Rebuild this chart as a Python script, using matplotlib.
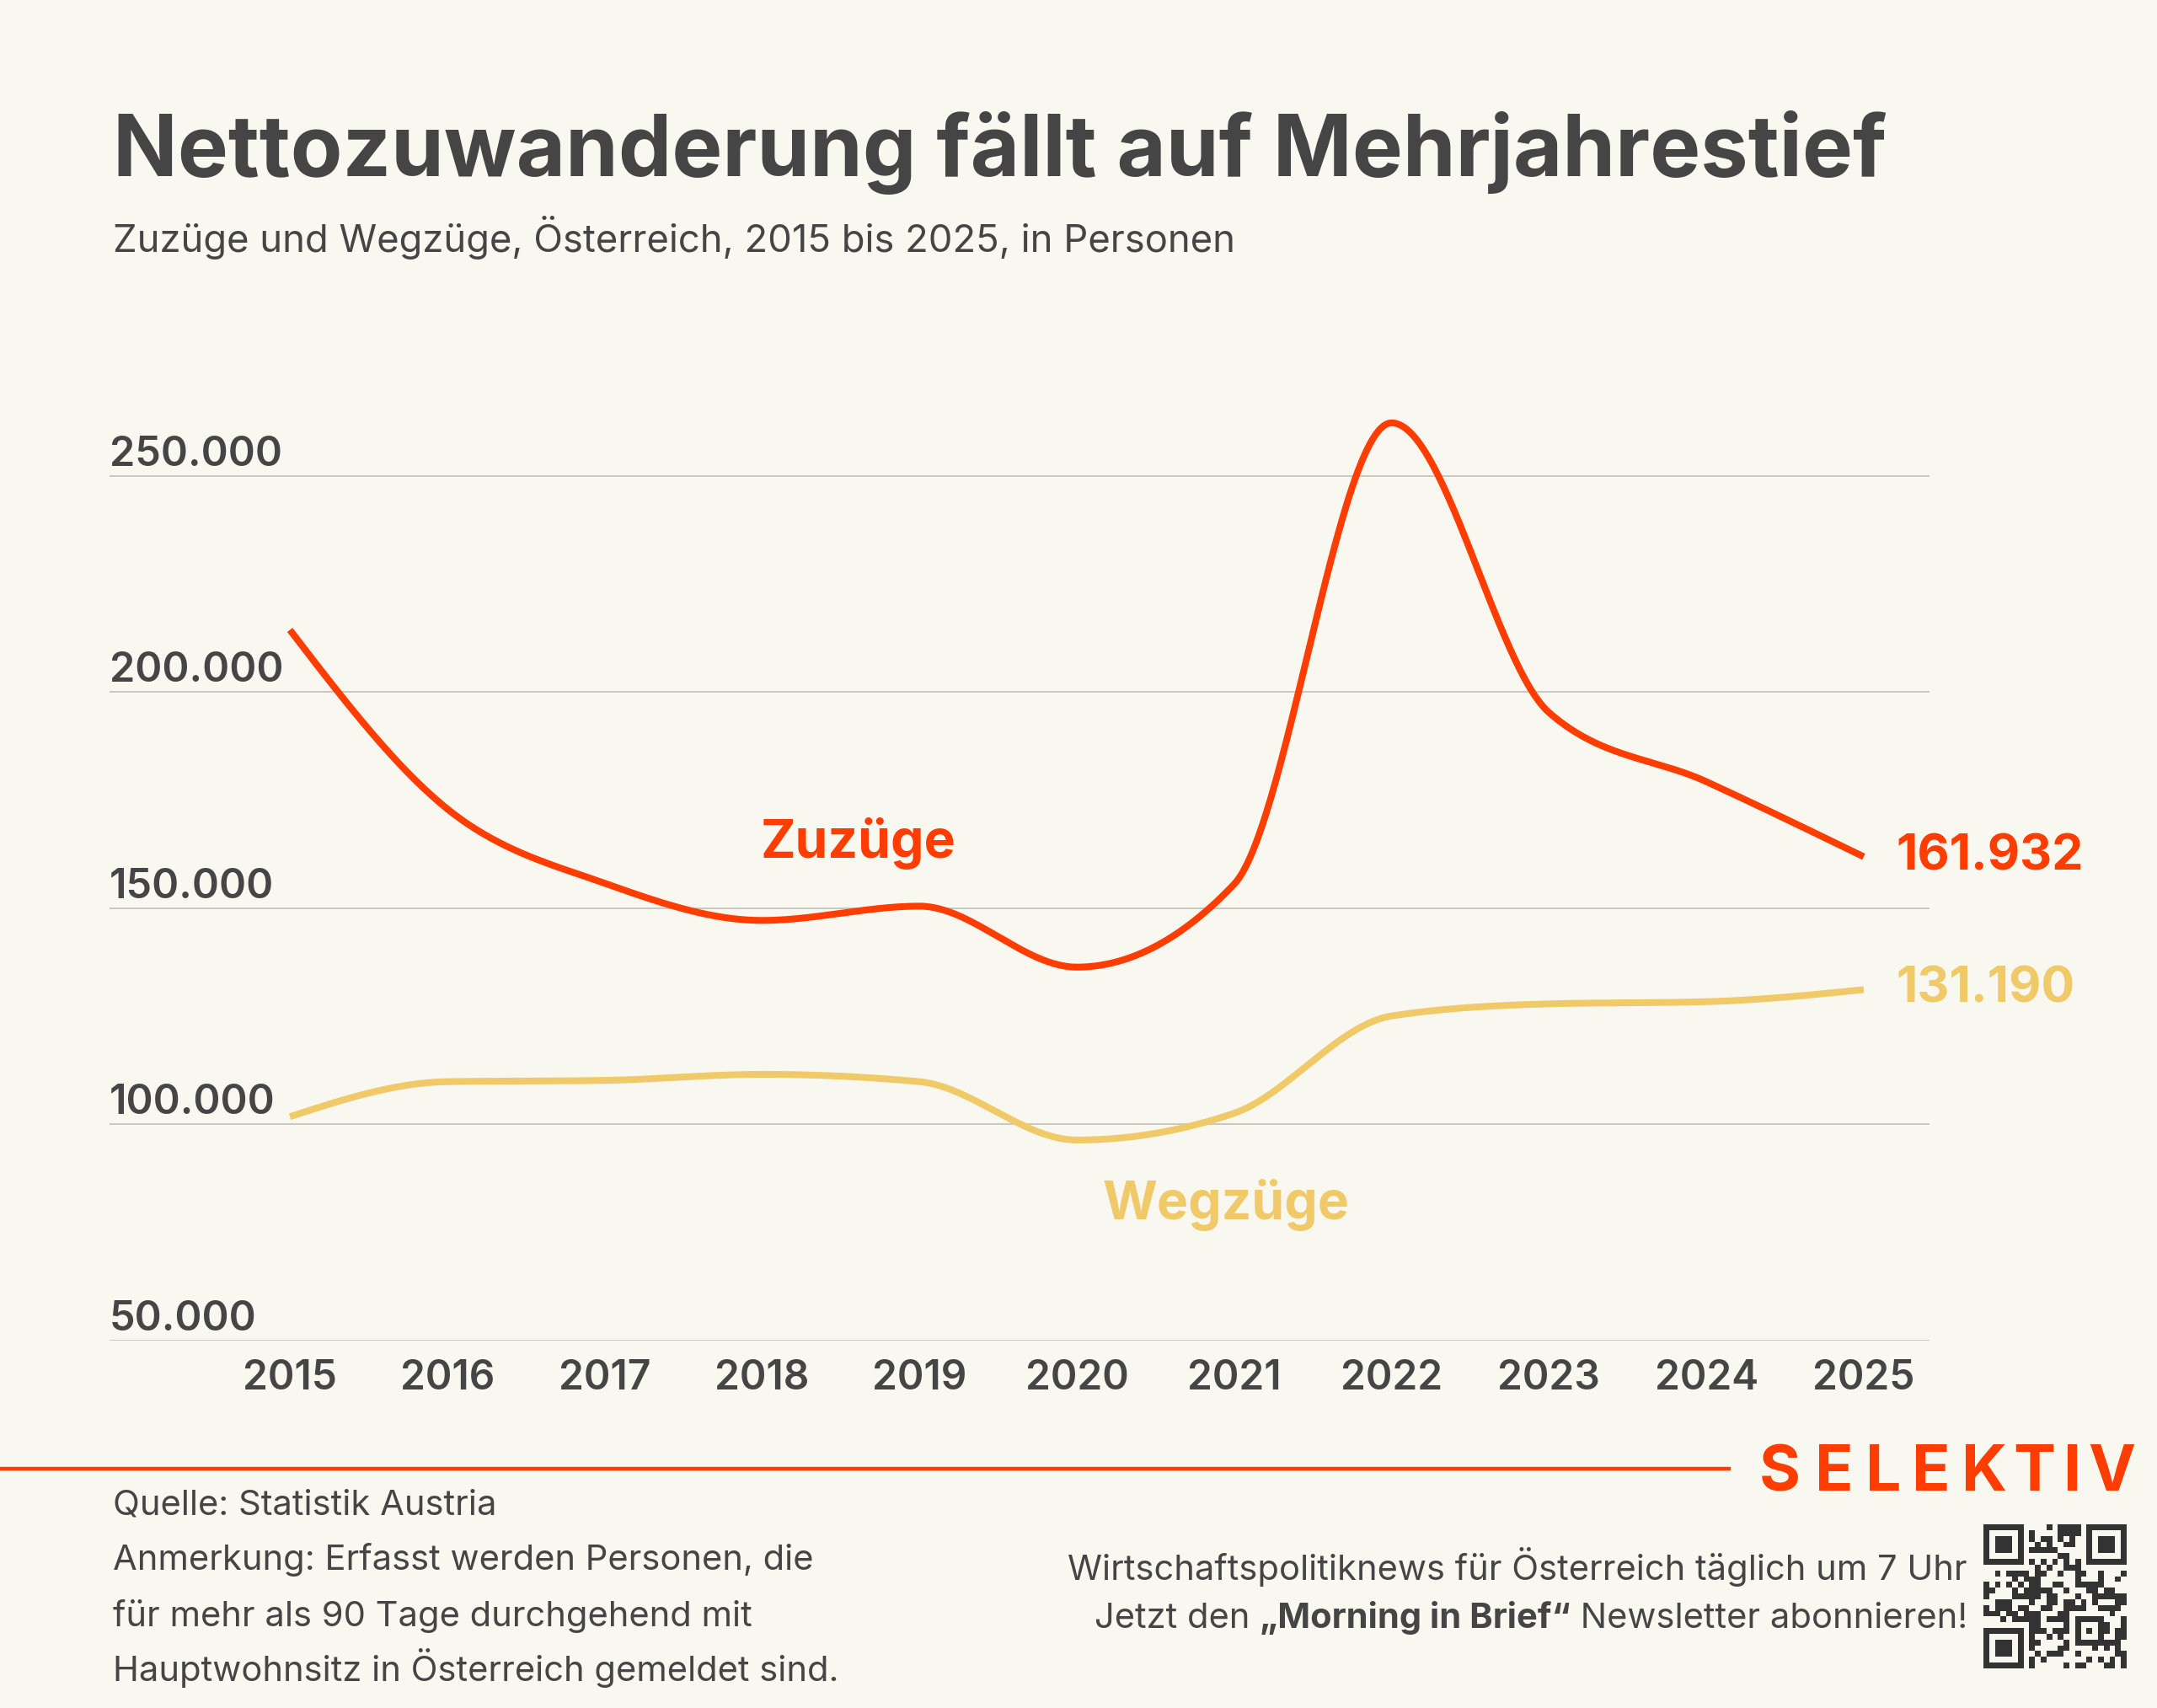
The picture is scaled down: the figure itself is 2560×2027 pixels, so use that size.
import hashlib
import numpy as np
import matplotlib
matplotlib.use("Agg")
import matplotlib.pyplot as plt

# data
years = [2015, 2016, 2017, 2018, 2019, 2020, 2021, 2022, 2023, 2024, 2025]
zuzuege = [214400, 173000, 155800, 147200, 150500, 136400, 155600, 262300, 195300, 179300, 161932]
wegzuege = [101800, 109900, 110200, 111600, 109900, 96400, 102600, 125100, 127900, 128400, 131190]
y_ticks = [50000, 100000, 150000, 200000, 250000]
y_tick_labels = ["50.000", "100.000", "150.000", "200.000", "250.000"]

BG = "#F9F8F0"
RED = "#FF3D00"
YELLOW = "#F0CA68"
TEXT = "#454545"
GRID = "#C4C4BC"
FONT = ["Inter", "DejaVu Sans"]

plt.rcParams["font.family"] = FONT

W, H = 2560, 2027


def monotone_x(x, y, n=60):
    """Smooth line like d3.curveMonotoneX."""
    x = np.asarray(x, float)
    y = np.asarray(y, float)
    h = np.diff(x)
    s = np.diff(y) / h
    t = np.zeros(len(x))
    sgn = lambda v: -1.0 if v < 0 else 1.0
    for i in range(1, len(x) - 1):
        p = (s[i - 1] * h[i] + s[i] * h[i - 1]) / (h[i - 1] + h[i])
        t[i] = (sgn(s[i - 1]) + sgn(s[i])) * min(abs(s[i - 1]), abs(s[i]), 0.5 * abs(p))
    t[0] = (3 * s[0] - t[1]) / 2
    t[-1] = (3 * s[-1] - t[-2]) / 2
    xs, ys = [], []
    for i in range(len(x) - 1):
        u = np.linspace(0, 1, n, endpoint=(i == len(x) - 2))
        h00 = 2 * u**3 - 3 * u**2 + 1
        h10 = u**3 - 2 * u**2 + u
        h01 = -2 * u**3 + 3 * u**2
        h11 = u**3 - u**2
        xs.append(x[i] + u * h[i])
        ys.append(h00 * y[i] + h10 * h[i] * t[i] + h01 * y[i + 1] + h11 * h[i] * t[i + 1])
    return np.concatenate(xs), np.concatenate(ys)


fig = plt.figure(figsize=(W / 100, H / 100), dpi=100, facecolor=BG)

# plot area
ax_l, ax_r, ax_t, ax_b = 130, 2290, 450, 1591
ax = fig.add_axes([ax_l / W, 1 - ax_b / H, (ax_r - ax_l) / W, (ax_b - ax_t) / H])
ax.set_facecolor(BG)
ax.set_xlim(2013.854, 2025.418)
ax.set_ylim(50000, 272400)
for sp in ax.spines.values():
    sp.set_visible(False)

for v in y_ticks:
    ax.axhline(v, color=GRID, lw=1.3, zorder=1)

ytrans = ax.get_yaxis_transform()
for v, lab in zip(y_ticks, y_tick_labels):
    ax.annotate(lab, xy=(0, v), xycoords=ytrans, xytext=(0, 12), textcoords="offset pixels",
                ha="left", va="baseline", fontsize=35, fontweight="semibold", color=TEXT)

ax.set_yticks([])
ax.set_xticks(years)
ax.set_xticklabels([str(y) for y in years], fontsize=34.5, fontweight="semibold", color=TEXT)
ax.tick_params(axis="x", length=0, pad=16)

# lines
xs, ys = monotone_x(years, zuzuege)
ax.plot(xs, ys, color=RED, lw=5.8, solid_capstyle="butt", zorder=3)
xs, ys = monotone_x(years, wegzuege)
ax.plot(xs, ys, color=YELLOW, lw=5.8, solid_capstyle="butt", zorder=2)

# series labels
ax.text(2018.61, 165000, "Zuzüge", color=RED, fontsize=45, fontweight="bold",
        ha="center", va="center")
ax.text(2020.95, 81400, "Wegzüge", color=YELLOW, fontsize=45, fontweight="bold",
        ha="center", va="center")

# end value labels
for vals, col in ((zuzuege, RED), (wegzuege, YELLOW)):
    ax.annotate(f"{vals[-1]:,}".replace(",", "."), xy=(years[-1], vals[-1]),
                xytext=(38, 0), textcoords="offset pixels", ha="left", va="center",
                fontsize=42.5, fontweight="bold", color=col, annotation_clip=False)

# title and subtitle
fig.text(134 / W, 1 - 209 / H, "Nettozuwanderung fällt auf Mehrjahrestief",
         fontsize=72.6, fontweight="bold", color=TEXT, ha="left", va="baseline")
fig.text(134 / W, 1 - 299 / H, "Zuzüge und Wegzüge, Österreich, 2015 bis 2025, in Personen",
         fontsize=32.7, color=TEXT, ha="left", va="baseline")

# footer
fig.add_artist(plt.Line2D([0, 2052 / W], [1 - 1743 / H] * 2, color=RED, lw=3.2))

logo_letters = "SELEKTIV"
logo_x = [2112, 2177, 2235, 2292, 2355, 2414, 2460, 2506]
for ch, lx in zip(logo_letters, logo_x):
    fig.text(lx / W, 1 - 1769 / H, ch, fontsize=54, fontweight="bold", color=RED,
             ha="center", va="baseline")

notes = [
    ("Quelle: Statistik Austria", 1797),
    ("Anmerkung: Erfasst werden Personen, die", 1863),
    ("für mehr als 90 Tage durchgehend mit", 1930),
    ("Hauptwohnsitz in Österreich gemeldet sind.", 1995),
]
for txt, yb in notes:
    fig.text(134 / W, 1 - yb / H, txt, fontsize=30, color=TEXT, ha="left", va="baseline")

fig.text(2335 / W, 1 - 1875 / H, "Wirtschaftspolitiknews für Österreich täglich um 7 Uhr",
         fontsize=30, color=TEXT, ha="right", va="baseline")

# mixed-weight line, built right to left
renderer = fig.canvas.get_renderer()
x_right = 2335
for part, wt in ((" Newsletter abonnieren!", "normal"), ("„Morning in Brief“", "bold"),
                 ("Jetzt den ", "normal")):
    t = fig.text(x_right / W, 1 - 1932 / H, part, fontsize=30, fontweight=wt, color=TEXT,
                 ha="right", va="baseline")
    bb = t.get_window_extent(renderer)
    x_right = bb.x0

# QR-like code block (deterministic pattern)
N = 25
bits = []
seed = b"selektiv.at/morning-in-brief"
while len(bits) < N * N:
    seed = hashlib.md5(seed).digest()
    for byte in seed:
        bits.extend((byte >> k) & 1 for k in range(8))
qr = np.array(bits[:N * N], dtype=bool).reshape(N, N)


def finder(r, c):
    qr[max(r - 1, 0):r + 8, max(c - 1, 0):c + 8] = False
    qr[r:r + 7, c:c + 7] = True
    qr[r + 1:r + 6, c + 1:c + 6] = False
    qr[r + 2:r + 5, c + 2:c + 5] = True


finder(0, 0)
finder(0, N - 7)
finder(N - 7, 0)
qr[15:21, 15:21] = False
qr[16:21, 16:21] = True
qr[17:20, 17:20] = False
qr[18, 18] = True
qr[6, 8:N - 8] = np.arange(8, N - 8) % 2 == 0
qr[8:N - 8, 6] = np.arange(8, N - 8) % 2 == 0

qax = fig.add_axes([2354 / W, 1 - 1980 / H, 170 / W, 171 / H])
qax.imshow(qr, cmap=matplotlib.colors.ListedColormap([BG, "#333333"]), interpolation="nearest",
           aspect="auto")
qax.axis("off")

fig.savefig("out.png", dpi=100, facecolor=BG)
